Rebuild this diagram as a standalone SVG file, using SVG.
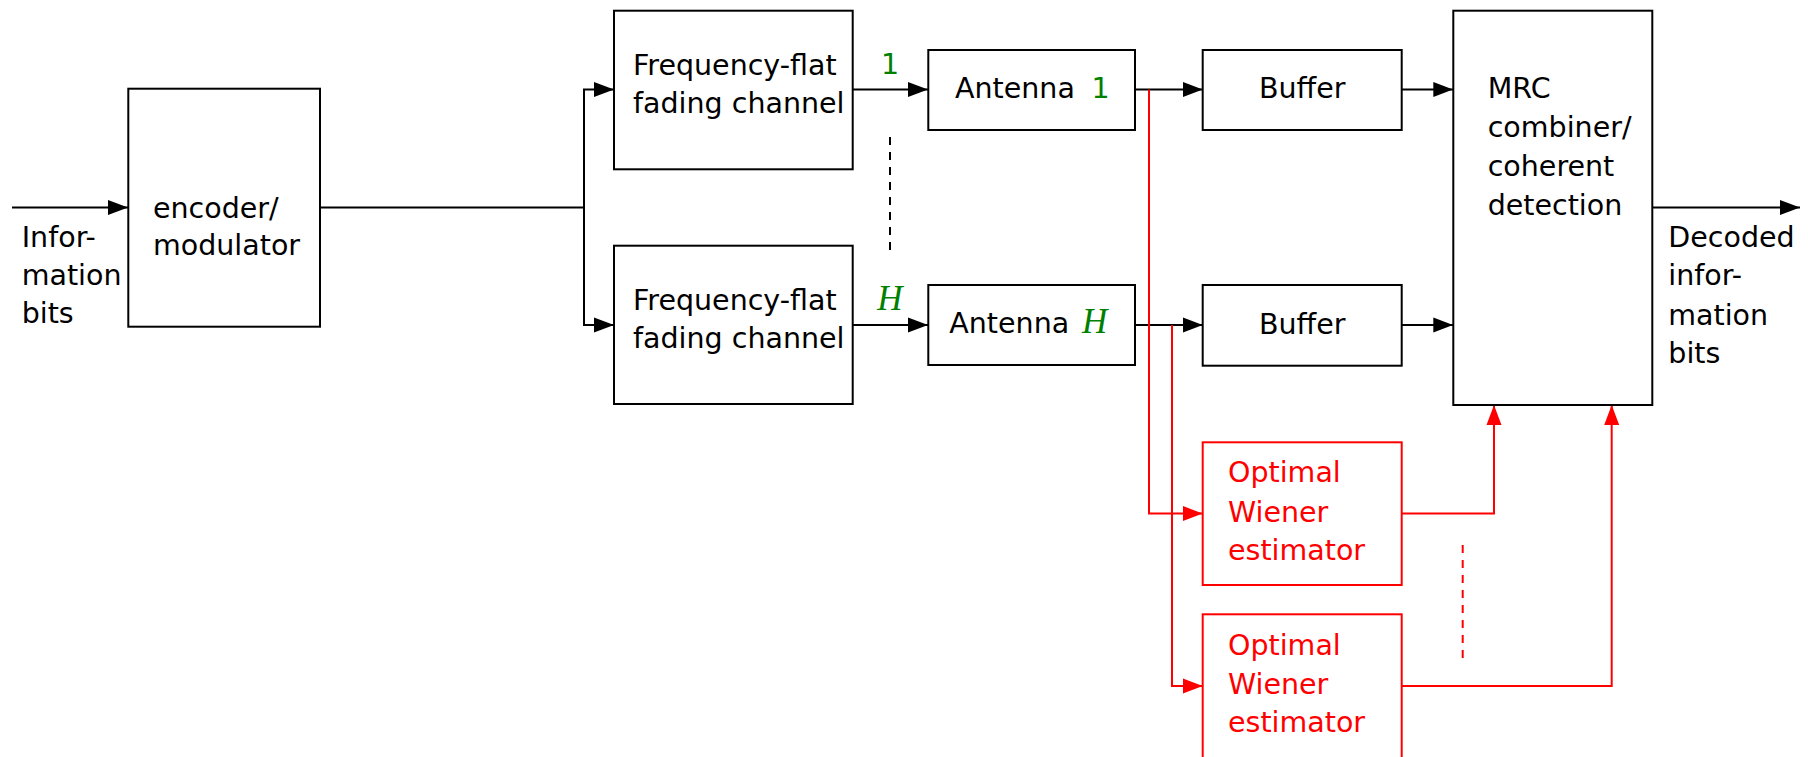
<svg xmlns="http://www.w3.org/2000/svg" width="1808" height="757" viewBox="0 0 1808 757">
<style>
text{font-family:"DejaVu Sans","Liberation Sans",sans-serif;font-size:28.5px;fill:#000}
.box{fill:none;stroke:#000;stroke-width:2}
.rbox{fill:none;stroke:#ff0000;stroke-width:2}
.ln{fill:none;stroke:#000;stroke-width:2}
.rln{fill:none;stroke:#ff0000;stroke-width:2}
.red{fill:#ff0000}
.grn{fill:#008000}
.mi{font-family:"Liberation Serif","DejaVu Serif",serif;font-style:italic;font-size:35px}
</style>
<defs>
<marker id="ab" markerUnits="userSpaceOnUse" markerWidth="20" markerHeight="16" refX="20" refY="8" orient="auto"><path d="M0,0.5 L20,8 L0,15.5 z" fill="#000"/></marker>
<marker id="ar" markerUnits="userSpaceOnUse" markerWidth="20" markerHeight="16" refX="20" refY="8" orient="auto"><path d="M0,0.5 L20,8 L0,15.5 z" fill="#ff0000"/></marker>
</defs>
<g id="connectors">
<path class="ln" d="M12,207.5 H128" marker-end="url(#ab)"/>
<path class="ln" d="M320,207.5 H584"/>
<path class="ln" d="M584,325 V89.5 H614" marker-end="url(#ab)"/>
<path class="ln" d="M584,207.5 V325 H614" marker-end="url(#ab)"/>
<path class="ln" d="M852.7,89.5 H928" marker-end="url(#ab)"/>
<path class="ln" d="M852.7,325 H928" marker-end="url(#ab)"/>
<path class="ln" d="M1135,89.5 H1202.7" marker-end="url(#ab)"/>
<path class="ln" d="M1135,325 H1202.7" marker-end="url(#ab)"/>
<path class="ln" d="M1401.7,89.5 H1453.3" marker-end="url(#ab)"/>
<path class="ln" d="M1401.7,325 H1453.3" marker-end="url(#ab)"/>
<path class="ln" d="M1652.3,207.5 H1800" marker-end="url(#ab)"/>
<path class="ln" d="M890,137 V253" stroke-dasharray="8,7"/>
<path class="rln" d="M1149,89.5 V513.5 H1202.7" marker-end="url(#ar)"/>
<path class="rln" d="M1172,325 V686 H1202.7" marker-end="url(#ar)"/>
<path class="rln" d="M1401.7,513.5 H1494 V405" marker-end="url(#ar)"/>
<path class="rln" d="M1401.7,686 H1611.7 V405" marker-end="url(#ar)"/>
<path class="rln" d="M1462.7,545 V663" stroke-dasharray="8,7"/>
<text class="grn" x="890" y="74" text-anchor="middle">1</text>
<text class="grn mi" x="890" y="310" text-anchor="middle">H</text>
</g>
<g id="input-label">
<text x="21.7" y="246.7">Infor-</text>
<text x="21.7" y="285">mation</text>
<text x="21.7" y="323">bits</text>
</g>
<g id="encoder">
<rect class="box" x="128.3" y="88.7" width="191.7" height="238"/>
<text x="153" y="218">encoder/</text>
<text x="153" y="255">modulator</text>
</g>
<g id="channel1">
<rect class="box" x="614" y="10.7" width="238.7" height="158.6"/>
<text x="633" y="75">Frequency-flat</text>
<text x="633" y="113">fading channel</text>
</g>
<g id="channel2">
<rect class="box" x="614" y="245.7" width="238.7" height="158.3"/>
<text x="633" y="310">Frequency-flat</text>
<text x="633" y="348">fading channel</text>
</g>
<g id="antenna1">
<rect class="box" x="928.3" y="50" width="206.7" height="80"/>
<text x="955" y="98.3">Antenna</text>
<text class="grn" x="1091.5" y="98.3">1</text>
</g>
<g id="antennaH">
<rect class="box" x="928.3" y="285" width="206.7" height="80"/>
<text x="949.3" y="333">Antenna</text>
<text class="grn mi" x="1082" y="333">H</text>
</g>
<g id="buffer1">
<rect class="box" x="1202.7" y="50" width="199" height="80"/>
<text x="1302.2" y="98.3" text-anchor="middle">Buffer</text>
</g>
<g id="buffer2">
<rect class="box" x="1202.7" y="285" width="199" height="80.7"/>
<text x="1302.2" y="333.5" text-anchor="middle">Buffer</text>
</g>
<g id="mrc">
<rect class="box" x="1453.3" y="10.7" width="199" height="394.3"/>
<text x="1487.7" y="97.7">MRC</text>
<text x="1487.7" y="136.7">combiner/</text>
<text x="1487.7" y="176">coherent</text>
<text x="1487.7" y="215">detection</text>
</g>
<g id="output-label">
<text x="1668.3" y="246.7">Decoded</text>
<text x="1668.3" y="285">infor-</text>
<text x="1668.3" y="325">mation</text>
<text x="1668.3" y="363.3">bits</text>
</g>
<g id="wiener1">
<rect class="rbox" x="1202.7" y="442.3" width="199" height="142.7"/>
<text class="red" x="1228" y="482.3">Optimal</text>
<text class="red" x="1228" y="521.7">Wiener</text>
<text class="red" x="1228" y="560">estimator</text>
</g>
<g id="wiener2">
<rect class="rbox" x="1202.7" y="614.3" width="199" height="144"/>
<text class="red" x="1228" y="655">Optimal</text>
<text class="red" x="1228" y="694">Wiener</text>
<text class="red" x="1228" y="732">estimator</text>
</g>
</svg>
